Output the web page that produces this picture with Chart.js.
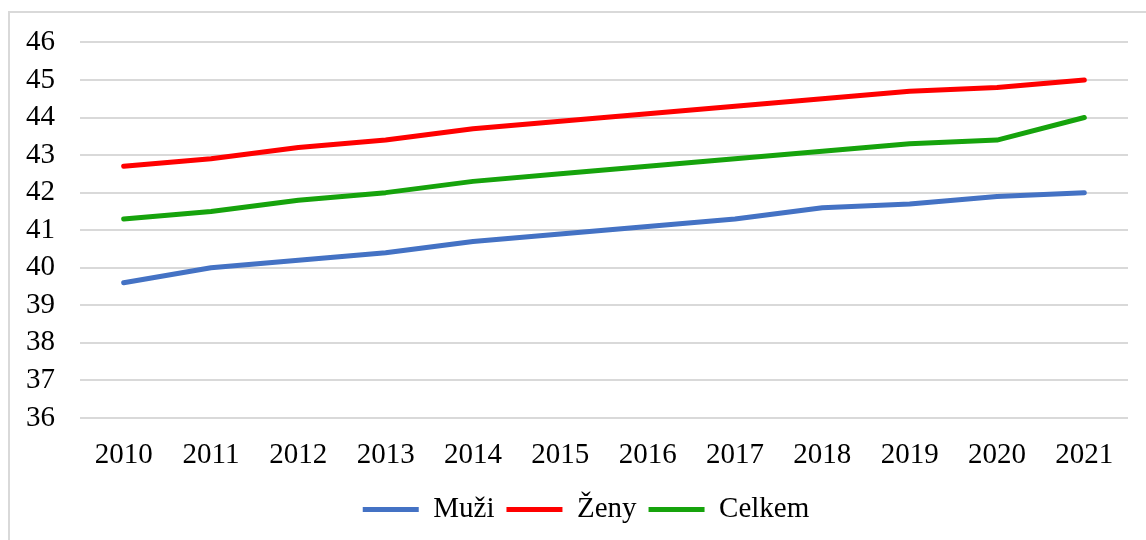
<!DOCTYPE html>
<html>
<head>
<meta charset="utf-8">
<script src="https://cdn.jsdelivr.net/npm/chart.js@4/dist/chart.umd.min.js"></script>
<style>
    html, body { margin: 0; padding: 0; background: #fff; overflow: hidden; }
    #frame { position: absolute; left: 8px; top: 11px; width: 1200px; height: 600px; border: 2px solid #d9d9d9; box-sizing: border-box; }
    #wrap { position: absolute; left: 0; top: 0; width: 1146px; height: 540px; }
</style>
</head>
<body>
<div id="frame"></div>
<div id="wrap"><canvas id="chart"></canvas></div>
<script>
let roky = ['2010', '2011', '2012', '2013', '2014', '2015', '2016', '2017', '2018', '2019', '2020', '2021'];
let muzi = [39.6, 40.0, 40.2, 40.4, 40.7, 40.9, 41.1, 41.3, 41.6, 41.7, 41.9, 42.0];
let zeny = [42.7, 42.9, 43.2, 43.4, 43.7, 43.9, 44.1, 44.3, 44.5, 44.7, 44.8, 45.0];
let celkem = [41.3, 41.5, 41.8, 42.0, 42.3, 42.5, 42.7, 42.9, 43.1, 43.3, 43.4, 44.0];

let pismo = { family: "'Liberation Serif', 'Times New Roman', serif", size: 29 };

function serie(label, data, barva) {
    return {
        label: label,
        data: data,
        borderColor: barva,
        backgroundColor: barva,
        borderWidth: 5,
        pointRadius: 0,
        tension: 0,
        borderCapStyle: 'round',
        borderJoinStyle: 'round'
    };
}

// legenda je v originale trochu vpravo od stredu platna
let posunLegendy = {
    id: 'posunLegendy',
    afterLayout: function (chart) {
        if (chart.legend) {
            chart.legend.left += 22;
            chart.legend.right += 22;
        }
    }
};

let graf = new Chart(document.getElementById('chart'), {
    type: 'line',
    data: {
        labels: roky,
        datasets: [
            serie('Muži', muzi, '#4472c4'),
            serie('Ženy', zeny, '#ff0000'),
            serie('Celkem', celkem, '#16a30c')
        ]
    },
    plugins: [posunLegendy],
    options: {
        responsive: true,
        maintainAspectRatio: false,
        animation: false,
        layout: { padding: { left: 0, right: 18, top: 42, bottom: 6 } },
        scales: {
            x: {
                offset: true,
                grid: { display: false },
                border: { display: false },
                ticks: { color: '#000', font: pismo, padding: 12, maxRotation: 0, autoSkip: false },
                afterFit: function (s) { s.height = 65; }
            },
            y: {
                min: 36,
                max: 46,
                grid: { color: '#d9d9d9', lineWidth: 2, drawTicks: false },
                border: { display: false },
                ticks: { color: '#000', font: pismo, stepSize: 1, padding: 25, autoSkip: false },
                afterFit: function (s) { s.width = 80; }
            }
        },
        plugins: {
            tooltip: { enabled: false },
            legend: {
                position: 'bottom',
                labels: {
                    color: '#000',
                    font: pismo,
                    boxWidth: 56,
                    boxHeight: 5,
                    padding: 12,
                    generateLabels: function (chart) {
                        return chart.data.datasets.map(function (ds, i) {
                            return {
                                text: ds.label,
                                fillStyle: ds.borderColor,
                                strokeStyle: ds.borderColor,
                                lineWidth: 0,
                                datasetIndex: i,
                                fontColor: '#000'
                            };
                        });
                    }
                }
            }
        }
    }
});
</script>
</body>
</html>
